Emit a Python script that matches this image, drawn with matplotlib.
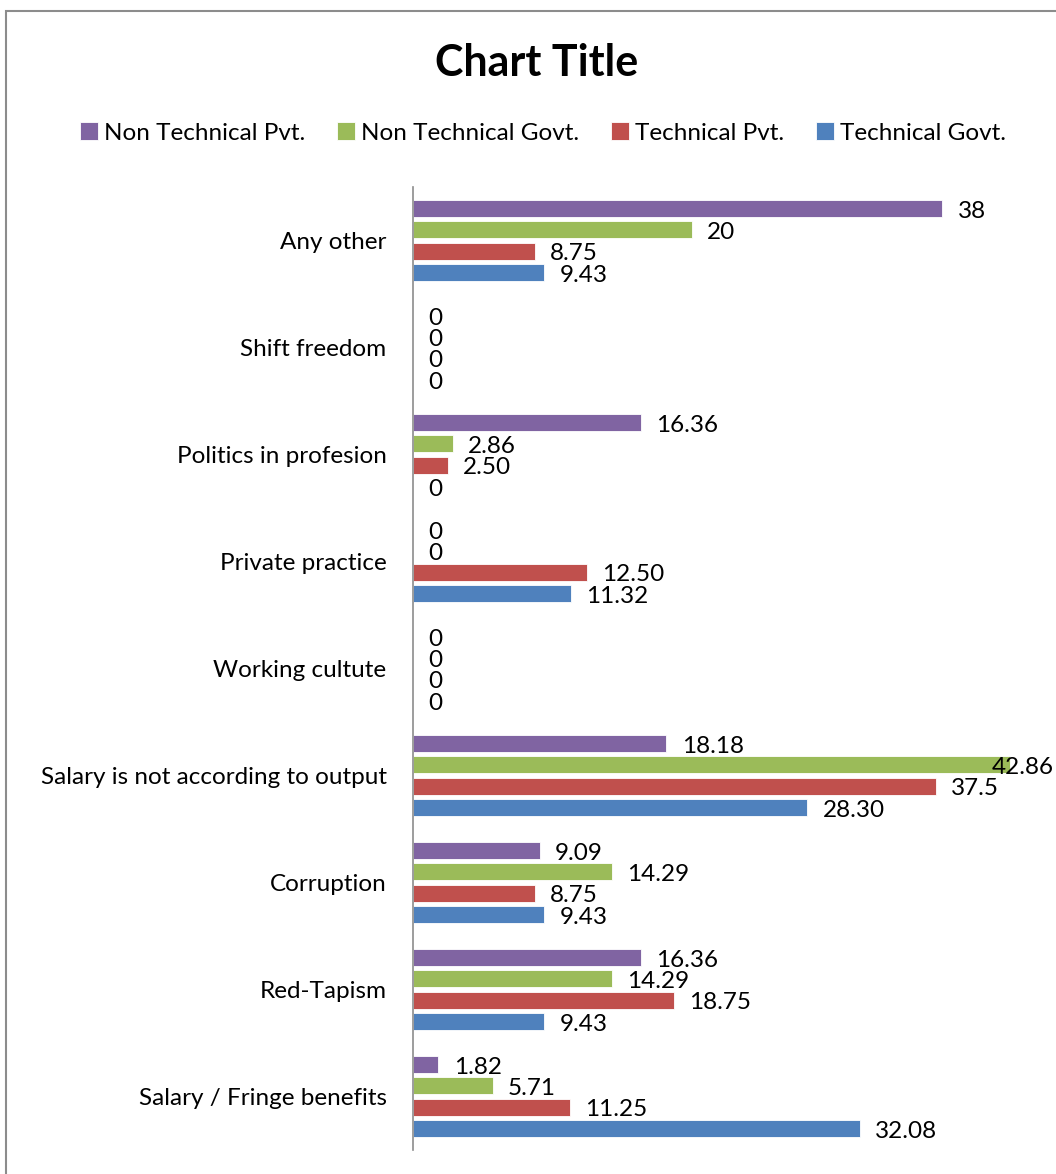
import numpy as np
import matplotlib.pyplot as plt
from matplotlib.patches import Rectangle

plt.rcParams['font.family'] = ['Lato', 'DejaVu Sans']

# categories listed bottom to top
categories = ["Salary / Fringe benefits", "Red-Tapism", "Corruption",
              "Salary is not according to output", "Working cultute",
              "Private practice", "Politics in profesion", "Shift freedom",
              "Any other"]

# values kept as the printed strings so labels keep their formatting
tech_govt = ["32.08", "9.43", "9.43", "28.30", "0", "11.32", "0", "0", "9.43"]
tech_pvt = ["11.25", "18.75", "8.75", "37.5", "0", "12.50", "2.50", "0", "8.75"]
nontech_govt = ["5.71", "14.29", "14.29", "42.86", "0", "0", "2.86", "0", "20"]
nontech_pvt = ["1.82", "16.36", "9.09", "18.18", "0", "0", "16.36", "0", "38"]

series = [
    ("Technical Govt.", tech_govt, "#4F81BD", -0.3),
    ("Technical Pvt.", tech_pvt, "#C0504D", -0.1),
    ("Non Technical Govt.", nontech_govt, "#9BBB59", 0.1),
    ("Non Technical Pvt.", nontech_pvt, "#8064A2", 0.3),
]

W, H = 1056, 1174
FS = 17.5
XMAX = 45

fig = plt.figure(figsize=(W / 100, H / 100), dpi=100)

# chart border
fig.patches.append(Rectangle((6 / W, -0.05), 1.1, 1 - 11 / H + 0.05,
                             transform=fig.transFigure, fill=False,
                             edgecolor="#8c8c8c", linewidth=1.5))

ax = fig.add_axes([413 / W, 1 - 1150 / H, (1040 - 413) / W, (1150 - 187) / H])

y = np.arange(len(categories))
handles = {}
for name, vals, color, off in series:
    v = [float(s) for s in vals]
    bars = ax.barh(y + off, v, height=0.16, color=color,
                   edgecolor="white", linewidth=0.6)
    handles[name] = bars
    for yi, xi, s in zip(y + off, v, vals):
        if xi > 0.9 * XMAX:
            # too long to fit after the bar: pin to the right edge
            ax.annotate(s, (1 - 2 / W, yi), xycoords=("figure fraction", "data"),
                        xytext=(0, -2), textcoords="offset points",
                        ha="right", va="center", fontsize=FS, color="black",
                        annotation_clip=False)
        else:
            ax.annotate(s, (xi, yi), xytext=(11, -2), textcoords="offset points",
                        ha="left", va="center", fontsize=FS, color="black",
                        annotation_clip=False)

ax.set_xlim(0, XMAX)
ax.set_ylim(-0.5, len(categories) - 0.5)
ax.set_yticks(y)
ax.set_yticklabels(categories, fontsize=FS)
ax.tick_params(axis="y", length=0, pad=19)
ax.set_xticks([])
for side in ["top", "right", "bottom"]:
    ax.spines[side].set_visible(False)
ax.spines["left"].set_color("#8c8c8c")
ax.spines["left"].set_linewidth(1.2)

fig.text(537 / W, 1 - 63 / H, "Chart Title", ha="center", va="center",
         fontsize=31, fontweight="bold")

order = ["Non Technical Pvt.", "Non Technical Govt.", "Technical Pvt.", "Technical Govt."]
fig.legend([handles[n] for n in order], order, loc="center",
           bbox_to_anchor=(543 / W, 1 - 133 / H), ncol=4, frameon=False,
           fontsize=FS, handlelength=0.75, handleheight=0.75,
           handletextpad=0.25, columnspacing=1.3)

fig.savefig("out.png", dpi=100)
